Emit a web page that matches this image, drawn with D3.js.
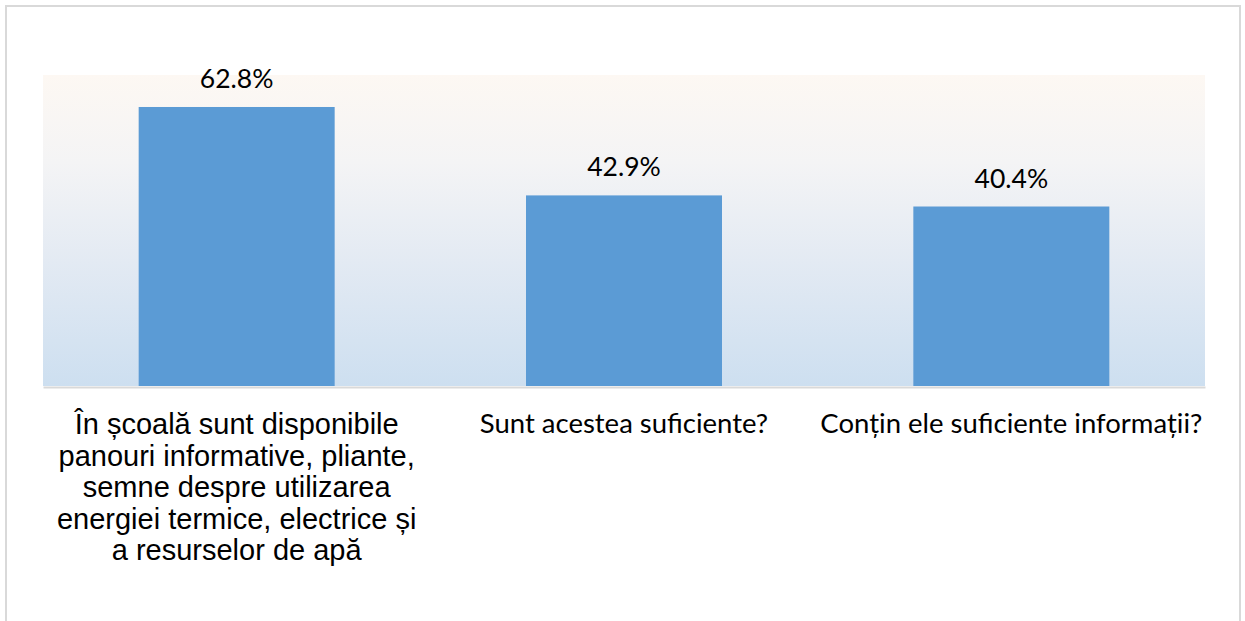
<!DOCTYPE html>
<html>
<head>
<meta charset="utf-8">
<script src="https://cdn.jsdelivr.net/npm/d3@7"></script>
<style>
  body { margin: 0; background: #fff; }
  svg { display: block; }
</style>
</head>
<body>
<svg id="svg" width="1245" height="621"></svg>
<script>
// chart data
var categories = ['cat1', 'cat2', 'cat3'];
var values = [62.8, 42.9, 40.4];
var valueLabels = ['62.8%', '42.9%', '40.4%'];
var categoryLines = [
  ['În școală sunt disponibile', 'panouri informative, pliante,', 'semne despre utilizarea', 'energiei termice, electrice și', 'a resurselor de apă'],
  ['Sunt acestea suficiente?'],
  ['Conțin ele suficiente informații?']
];

var svg = d3.select('#svg');
var margin = { top: 75, left: 43, right: 40, bottom: 235 };
var plotRight = 1205;
var baseline = 386;

// outer frame
svg.append('rect')
  .attr('x', 6).attr('y', 6)
  .attr('width', 1234).attr('height', 640)
  .attr('fill', 'none')
  .attr('stroke', '#d9d9d9')
  .attr('stroke-width', 2);

// plot background gradient
var defs = svg.append('defs');
var grad = defs.append('linearGradient')
  .attr('id', 'bg').attr('x1', 0).attr('y1', 0).attr('x2', 0).attr('y2', 1);
grad.append('stop').attr('offset', '0%').attr('stop-color', '#fdf8f3');
grad.append('stop').attr('offset', '28%').attr('stop-color', '#f4f4f5');
grad.append('stop').attr('offset', '60%').attr('stop-color', '#e3eaf3');
grad.append('stop').attr('offset', '100%').attr('stop-color', '#cddff0');

var xScale = d3.scaleBand()
  .domain(categories)
  .range([margin.left, plotRight])
  .paddingInner(0.494)
  .paddingOuter(0.247);

var yScale = d3.scaleLinear()
  .domain([0, 70])
  .range([baseline, margin.top]);

svg.append('rect')
  .attr('x', margin.left)
  .attr('y', yScale(70))
  .attr('width', plotRight - margin.left)
  .attr('height', yScale(0) - yScale(70))
  .attr('fill', 'url(#bg)');

var g = svg.append('g');

g.selectAll('.bar')
  .data(values)
  .join('rect')
  .attr('class', 'bar')
  .attr('x', (d, i) => xScale(categories[i]))
  .attr('y', d => yScale(d))
  .attr('width', xScale.bandwidth())
  .attr('height', d => yScale(0) - yScale(d))
  .attr('fill', '#5b9bd5');

// axis line
var xAxis = d3.axisBottom(xScale).tickSize(0).tickFormat('');
g.append('g')
  .attr('transform', 'translate(0,' + (baseline + 1) + ')')
  .call(xAxis)
  .call(a => a.select('.domain').attr('stroke', '#d9d9d9').attr('stroke-width', 2));

// value labels
g.selectAll('.val')
  .data(values)
  .join('text')
  .attr('class', 'val')
  .attr('x', (d, i) => xScale(categories[i]) + xScale.bandwidth() / 2)
  .attr('y', d => yScale(d) - 19)
  .attr('text-anchor', 'middle')
  .style('font-family', 'Lato, sans-serif')
  .style('font-size', '26.5px')
  .style('fill', '#000')
  .text((d, i) => valueLabels[i]);

// category labels
categoryLines.forEach(function (lines, i) {
  var cx = xScale(categories[i]) + xScale.bandwidth() / 2;
  var t = g.append('text')
    .attr('text-anchor', 'middle')
    .style('fill', '#000');
  if (i === 0) {
    t.style('font-family', '"Liberation Sans", Arial, sans-serif').style('font-size', '29px');
    lines.forEach(function (l, j) {
      t.append('tspan').attr('x', cx).attr('y', 434 + j * 31.5).text(l);
    });
  } else {
    t.style('font-family', 'Lato, sans-serif').style('font-size', '27.5px');
    t.append('tspan').attr('x', cx).attr('y', 433).text(lines[0]);
  }
});
</script>
</body>
</html>
